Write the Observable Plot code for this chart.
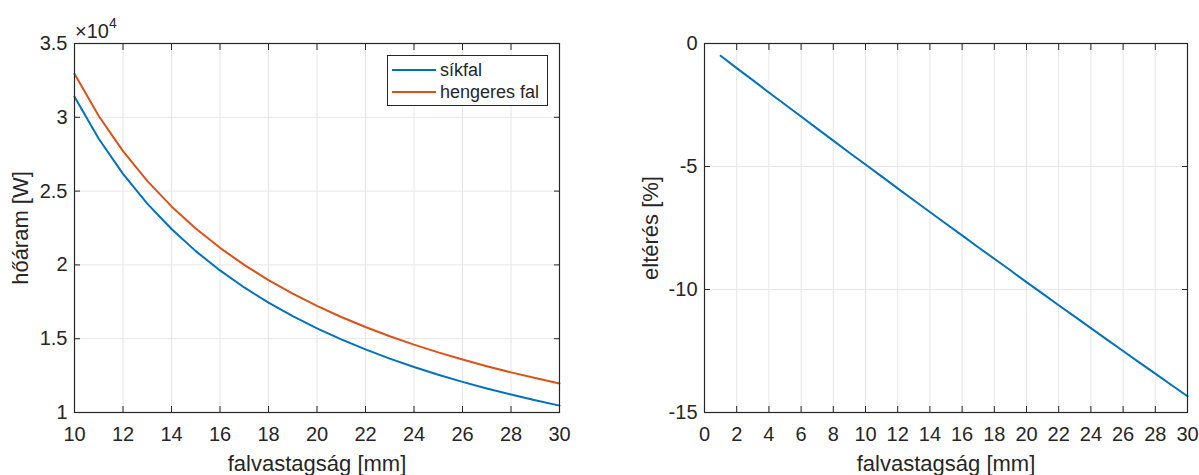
<!DOCTYPE html>
<html>
<head>
<meta charset="utf-8">
<script src="https://cdn.jsdelivr.net/npm/d3@7"></script>
<script src="https://cdn.jsdelivr.net/npm/@observablehq/plot@0.6"></script>
<style>
  html, body { margin: 0; padding: 0; background: #fff; }
  #wrap { position: relative; width: 1199px; height: 475px; font-family: "Liberation Sans", Arial, Helvetica, sans-serif; color: #262626; }
  #left, #right { position: absolute; top: 0; }
  #left { left: 0; }
  #right { left: 600px; }
  .legend { position: absolute; left: 387px; top: 55px; width: 161px; height: 51px; border: 1px solid #262626; background: #fff; box-sizing: border-box; font-size: 18px; }
  .legend .row { position: absolute; left: 4px; height: 22px; display: flex; align-items: center; }
  .legend .sw { width: 44px; height: 2px; margin-right: 4px; }
  .expo { position: absolute; left: 75px; top: 17px; font-size: 20px; }
  .expo sup { font-size: 14px; position: relative; top: -2px; }
</style>
</head>
<body>
<div id="wrap">
  <div id="left"></div>
  <div id="right"></div>
  <div class="expo">×10<sup>4</sup></div>
  <div class="legend">
    <div class="row" style="top:3px"><div class="sw" style="background:#0072BD"></div>síkfal</div>
    <div class="row" style="top:25px"><div class="sw" style="background:#D95319"></div>hengeres fal</div>
  </div>
</div>
<script>
// ---- data ----
const thickness = [10,11,12,13,14,15,16,17,18,19,20,21,22,23,24,25,26,27,28,29,30];
const sikfal = [31400,28545,26167,24154,22429,20933,19625,18471,17444,16526,15700,14952,14273,13652,13083,12560,12077,11630,11214,10828,10467];
const hengeres = [32945,30088,27707,25692,23964,22467,21156,19999,18971,18051,17222,16472,15791,15168,14597,14072,13587,13137,12720,12331,11968];
const thickness2 = [1,2,3,4,5,6,7,8,9,10,11,12,13,14,15,16,17,18,19,20,21,22,23,24,25,26,27,28,29,30];
const elteres = [-0.50,-1.00,-1.49,-1.99,-2.48,-2.97,-3.46,-3.95,-4.44,-4.92,-5.40,-5.89,-6.37,-6.85,-7.33,-7.80,-8.28,-8.75,-9.22,-9.70,-10.17,-10.64,-11.10,-11.57,-12.04,-12.50,-12.96,-13.42,-13.88,-14.34];
const leftXTicks = [10,12,14,16,18,20,22,24,26,28,30];
const leftYTicks = [10000,15000,20000,25000,30000,35000];
const rightXTicks = [0,2,4,6,8,10,12,14,16,18,20,22,24,26,28,30];
const rightYTicks = [-15,-10,-5,0];
const seriesNames = ["síkfal", "hengeres fal"];
const colors = ["#0072BD", "#D95319"];

const leftData = [
  ...thickness.map((t, i) => ({t, q: sikfal[i], s: seriesNames[0]})),
  ...thickness.map((t, i) => ({t, q: hengeres[i], s: seriesNames[1]}))
];
const rightData = thickness2.map((t, i) => ({t, e: elteres[i]}));

const FONT = '"Liberation Sans", Arial, Helvetica, sans-serif';
const AX = "#262626";
const GRID = "#e6e6e6";

function axes(xTicks, yTicks, yFmt) {
  return [
    Plot.axisX(xTicks, {anchor: "bottom", tickSize: -6, tickPadding: 20, stroke: AX, color: AX, fontSize: 20, label: null}),
    Plot.axisX(xTicks, {anchor: "top", tickSize: -6, tickFormat: () => "", stroke: AX, label: null}),
    Plot.axisY(yTicks, {anchor: "left", tickSize: -6, tickPadding: 13, stroke: AX, color: AX, fontSize: 20, tickFormat: yFmt, label: null}),
    Plot.axisY(yTicks, {anchor: "right", tickSize: -6, tickFormat: () => "", stroke: AX, label: null}),
    Plot.frame({stroke: AX, strokeWidth: 1.2})
  ];
}

function labels(xLabel, yLabel) {
  return [
    Plot.text([xLabel], {frameAnchor: "bottom", dy: 51, fontSize: 22, fill: AX, textAnchor: "middle", lineAnchor: "middle"}),
    Plot.text([yLabel], {frameAnchor: "left", dx: -54, rotate: -90, fontSize: 22, fill: AX, textAnchor: "middle", lineAnchor: "middle"})
  ];
}

const left = Plot.plot({
  width: 600, height: 475,
  marginLeft: 74, marginRight: 41, marginTop: 43, marginBottom: 63,
  style: {fontFamily: FONT, background: "transparent", overflow: "visible"},
  x: {domain: [10, 30]},
  y: {domain: [10000, 35000]},
  color: {domain: seriesNames, range: colors},
  marks: [
    Plot.gridX(leftXTicks, {stroke: GRID, strokeOpacity: 1}),
    Plot.gridY(leftYTicks, {stroke: GRID, strokeOpacity: 1}),
    Plot.line(leftData, {x: "t", y: "q", z: "s", stroke: "s", strokeWidth: 2}),
    ...axes(leftXTicks, leftYTicks, d => String(d / 10000)),
    ...labels("falvastagság [mm]", "hőáram [W]")
  ]
});
document.getElementById("left").appendChild(left);

const right = Plot.plot({
  width: 599, height: 475,
  marginLeft: 104, marginRight: 12, marginTop: 43, marginBottom: 63,
  style: {fontFamily: FONT, background: "transparent", overflow: "visible"},
  x: {domain: [0, 30]},
  y: {domain: [-15, 0]},
  marks: [
    Plot.gridX(rightXTicks, {stroke: GRID, strokeOpacity: 1}),
    Plot.gridY(rightYTicks, {stroke: GRID, strokeOpacity: 1}),
    Plot.line(rightData, {x: "t", y: "e", stroke: colors[0], strokeWidth: 2}),
    ...axes(rightXTicks, rightYTicks, d => String(d)),
    ...labels("falvastagság [mm]", "eltérés [%]")
  ]
});
document.getElementById("right").appendChild(right);
</script>
</body>
</html>
